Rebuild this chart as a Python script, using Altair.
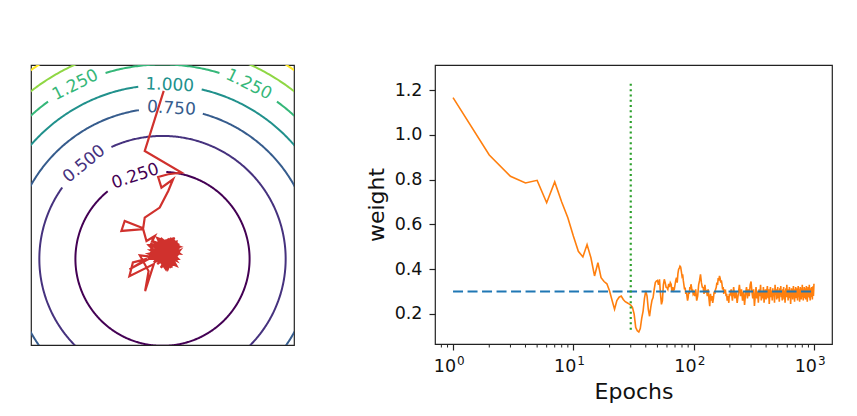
"""Loss contours with the SGD path, next to the weight trace over epochs."""

import math

import altair as alt
import pandas as pd

FONT = "DejaVu Sans"

# Contour levels of f(w1, w2) = w1^2 + w2^2 and their viridis colours.
LEVELS = [0.25, 0.5, 0.75, 1.0, 1.25, 1.5, 1.75]
LEVEL_COLORS = ["#440154", "#46327e", "#365c8d", "#21918c", "#35b779", "#8fd744", "#fde725"]

# Inline labels: level and the angle (deg) on its circle where the label sits.
LABEL_LEVELS = [1.25, 1.0, 1.25, 0.75, 0.5, 0.25]
LABEL_ANGLES = [116.6, 87.6, 63.7, 86.6, 129.5, 108.2]
LABEL_GAP = 0.18  # half-length of the break in the line, data units

# SGD path in parameter space: the descent, then the
# scribble around the minimum with a few excursions down-left.
PATH_W1 = [
    0.007, -0.102, 0.109, 0.033, -0.025, -0.006, 0.061, 0.033, -0.016, -0.102,
    -0.111, -0.217, -0.236, -0.111, -0.092, -0.044,
    -0.06, 0.08, -0.05, 0.07, 0.00, 0.09, -0.07, 0.06, -0.02, 0.09,
    -0.06, 0.04, 0.02, 0.08, -0.04, 0.07, -0.07, 0.05, -0.03, 0.09,
    -0.19, -0.09, -0.17, -0.19, -0.05, -0.10, -0.08, -0.13, -0.04,
    0.01, -0.05, 0.06, -0.01, 0.08, -0.06, 0.03, 0.05, -0.04, 0.09,
    -0.02, 0.06, -0.07, 0.04, 0.00, 0.08, -0.05, 0.07, -0.03, 0.02,
    0.09, -0.06, 0.05, 0.01, 0.07, -0.04, 0.06, -0.02, 0.08, 0.00,
    -0.08, 0.10, -0.03, 0.05, -0.08, 0.08, 0.02, -0.05, 0.10, -0.01,
    0.06, -0.07, 0.09, 0.03, -0.04, 0.07, -0.08, 0.04, 0.10, -0.02,
    0.05, -0.06, 0.08, 0.01, -0.03, 0.09, 0.04, 0.03,
]
PATH_W2 = [
    0.966, 0.621, 0.496, 0.487, 0.471, 0.410, 0.458, 0.391, 0.295, 0.237,
    0.176, 0.218, 0.161, 0.171, 0.103, 0.132,
    0.10, 0.04, -0.02, 0.10, -0.04, 0.06, 0.05, -0.03, 0.11, 0.00,
    0.00, 0.10, -0.05, 0.08, 0.07, -0.01, 0.09, 0.03, -0.03, 0.09,
    -0.06, 0.00, -0.02, -0.10, -0.03, -0.185, -0.07, 0.02, 0.01,
    0.02, 0.10, 0.06, -0.05, 0.02, 0.04, 0.11, -0.04, 0.02, 0.04,
    0.08, -0.02, 0.06, 0.00, 0.10, -0.01, 0.05, 0.07, -0.01, 0.09,
    0.02, 0.08, -0.02, 0.06, 0.11, 0.03, 0.01, 0.04, 0.06, 0.00,
    0.03, 0.07, 0.12, -0.05, 0.08, 0.10, -0.06, 0.04, 0.03, 0.12,
    -0.04, 0.07, 0.08, -0.06, 0.09, 0.12, 0.01, -0.03, 0.05, 0.00,
    0.12, 0.02, -0.04, 0.09, 0.05, 0.07, -0.02, 0.04,
]

# Weight trace: every epoch to 100, then every 2nd to 200, then every 5th.
EPOCHS = list(range(1, 101)) + list(range(102, 201, 2)) + list(range(205, 1001, 5))
WEIGHTS = [
    # 1-100
    1.166, 0.910, 0.815, 0.785, 0.797, 0.697, 0.790, 0.700, 0.630, 0.548,
    0.480, 0.455, 0.510, 0.451, 0.370, 0.429, 0.362, 0.345, 0.335, 0.303,
    0.260, 0.221, 0.260, 0.275, 0.280, 0.265, 0.255, 0.250, 0.245, 0.240,
    0.230, 0.200, 0.140, 0.125, 0.120, 0.135, 0.180, 0.213, 0.270, 0.303,
    0.280, 0.220, 0.190, 0.230, 0.260, 0.273, 0.310, 0.340, 0.347, 0.350,
    0.330, 0.355, 0.290, 0.243, 0.260, 0.330, 0.355, 0.340, 0.320, 0.318,
    0.310, 0.335, 0.320, 0.340, 0.333, 0.300, 0.320, 0.305, 0.310, 0.330,
    0.350, 0.362, 0.340, 0.380, 0.400, 0.405, 0.414, 0.410, 0.390, 0.370,
    0.377, 0.350, 0.330, 0.310, 0.318, 0.290, 0.300, 0.280, 0.260, 0.273,
    0.300, 0.290, 0.320, 0.310, 0.333, 0.320, 0.300, 0.310, 0.290, 0.295,
    # 102-200
    0.280, 0.310, 0.260, 0.280, 0.330, 0.350, 0.377, 0.340, 0.320, 0.318,
    0.290, 0.330, 0.300, 0.303, 0.280, 0.310, 0.270, 0.235, 0.290, 0.260,
    0.280, 0.250, 0.270, 0.300, 0.290, 0.310, 0.318, 0.340, 0.330, 0.360,
    0.350, 0.370, 0.360, 0.340, 0.350, 0.333, 0.310, 0.320, 0.290, 0.310,
    0.300, 0.303, 0.280, 0.290, 0.260, 0.280, 0.270, 0.250, 0.290, 0.280,
    # 205-1000
    0.310, 0.260, 0.320, 0.270, 0.300, 0.250, 0.290, 0.330, 0.280, 0.310,
    0.260, 0.300, 0.240, 0.290, 0.320, 0.270, 0.310, 0.280, 0.330, 0.345,
    0.300, 0.270, 0.310, 0.236, 0.280, 0.320, 0.270, 0.300, 0.250, 0.310,
    0.280, 0.330, 0.260, 0.300, 0.270, 0.320, 0.250, 0.290, 0.310, 0.265,
    0.300, 0.325, 0.270, 0.310, 0.245, 0.290, 0.320, 0.275, 0.305, 0.260,
    0.315, 0.280, 0.300, 0.250, 0.330, 0.285, 0.310, 0.265, 0.295, 0.320,
    0.270, 0.305, 0.255, 0.315, 0.290, 0.325, 0.275, 0.300, 0.260, 0.310,
    0.285, 0.320, 0.265, 0.305, 0.250, 0.295, 0.315, 0.275, 0.330, 0.280,
    0.300, 0.260, 0.310, 0.285, 0.320, 0.270, 0.305, 0.245, 0.290, 0.315,
    0.275, 0.310, 0.265, 0.300, 0.325, 0.280, 0.295, 0.255, 0.310, 0.290,
    0.320, 0.270, 0.305, 0.285, 0.315, 0.260, 0.300, 0.325, 0.275, 0.310,
    0.290, 0.255, 0.305, 0.320, 0.280, 0.300, 0.265, 0.315, 0.285, 0.330,
    0.275, 0.300, 0.260, 0.310, 0.290, 0.320, 0.270, 0.305, 0.280, 0.315,
    0.265, 0.300, 0.325, 0.280, 0.295, 0.255, 0.310, 0.290, 0.320, 0.275,
    0.305, 0.285, 0.330, 0.270, 0.300, 0.260, 0.315, 0.290, 0.310, 0.280,
    0.320, 0.275, 0.300, 0.265, 0.310, 0.290, 0.325, 0.280, 0.305, 0.335,
]

TARGET_WEIGHT = 0.3
TARGET_SPAN = [1, 1000]
MARKER_EPOCH = 30
MARKER_SPAN = [0.13, 1.24]

MAJOR_TICKS = [1, 10, 100, 1000]
TICK_EXPONENTS = ["0", "1", "2", "3"]
MINOR_TICKS = [0.8, 0.9] + [2, 3, 4, 5, 6, 7, 8, 9] + [20, 30, 40, 50, 60, 70, 80, 90] \
    + [200, 300, 400, 500, 600, 700, 800, 900]
Y_TICKS = [0.2, 0.4, 0.6, 0.8, 1.0, 1.2]

PLOT_H = 279


def contour_lines() -> pd.DataFrame:
    """Each level as a circle, broken where its inline labels sit."""
    rows = []
    for level, color in zip(LEVELS, LEVEL_COLORS):
        r = math.sqrt(level)
        gaps = [a for lv, a in zip(LABEL_LEVELS, LABEL_ANGLES) if lv == level]
        half = math.degrees(LABEL_GAP / r)
        seg, visible = 0, True
        for step in range(721):
            deg = step * 0.5
            hidden = any(abs((deg - g + 180) % 360 - 180) < half for g in gaps)
            if hidden:
                if visible:
                    seg += 1
                visible = False
                continue
            visible = True
            t = math.radians(deg)
            rows.append({"w1": r * math.cos(t), "w2": r * math.sin(t), "i": step,
                         "seg": f"{level}-{seg}", "color": color})
    return pd.DataFrame(rows)


def contour_labels() -> pd.DataFrame:
    color_of = dict(zip(LEVELS, LEVEL_COLORS))
    rows = []
    for level, deg in zip(LABEL_LEVELS, LABEL_ANGLES):
        r, t = math.sqrt(level), math.radians(deg)
        rows.append({"w1": r * math.cos(t), "w2": r * math.sin(t), "text": f"{level:.3f}",
                     "rot": (90 - deg) % 360, "color": color_of[level]})
    return pd.DataFrame(rows)


def landscape_panel() -> alt.LayerChart:
    x = alt.X("w1:Q", scale=alt.Scale(domain=[-0.755, 0.755], nice=False, zero=False), axis=None)
    y = alt.Y("w2:Q", scale=alt.Scale(domain=[-0.495, 1.115], nice=False, zero=False), axis=None)
    lines = alt.Chart(contour_lines()).mark_line(clip=True, strokeWidth=2).encode(
        x=x, y=y, detail="seg:N", order="i:Q", color=alt.Color("color:N", scale=None)
    )
    labels = alt.Chart(contour_labels()).mark_text(
        font=FONT, fontSize=17, baseline="middle", align="center"
    ).encode(
        x=x, y=y, text="text:N", angle=alt.Angle("rot:Q", scale=None),
        color=alt.Color("color:N", scale=None),
    )
    path = pd.DataFrame({"w1": PATH_W1, "w2": PATH_W2, "i": range(len(PATH_W1))})
    walk = alt.Chart(path).mark_line(color="#d0312d", strokeWidth=2.2, clip=True).encode(
        x=x, y=y, order="i:Q"
    )
    return (lines + labels + walk).properties(width=263, height=280)


def epoch_x(field: str) -> alt.X:
    # Labels are drawn as text marks (10 + raised exponent), so none here.
    return alt.X(
        field,
        scale=alt.Scale(type="log", domain=[10 ** -0.15, 10 ** 3.15], nice=False),
        axis=alt.Axis(
            values=MAJOR_TICKS, labels=False, title="Epochs", tickSize=6,
            titlePadding=31, grid=False, domain=False,
        ),
    )


def weight_panel() -> alt.LayerChart:
    y_scale = alt.Scale(domain=[0.066, 1.312], nice=False, zero=False)
    y = alt.Y("weight:Q", scale=y_scale, axis=alt.Axis(
        values=Y_TICKS, format=".1f", title="weight", tickSize=6, labelPadding=7,
        titlePadding=6, grid=False, domain=False,
    ))
    trace = alt.Chart(pd.DataFrame({"epoch": EPOCHS, "weight": WEIGHTS})).mark_line(
        color="#ff7f0e", strokeWidth=1.6
    ).encode(x=epoch_x("epoch:Q"), y=y)
    target = alt.Chart(pd.DataFrame({
        "epoch": [TARGET_SPAN[0]], "end": [TARGET_SPAN[1]], "weight": [TARGET_WEIGHT]
    })).mark_rule(color="#1f77b4", strokeWidth=2, strokeDash=[10, 4.5]).encode(
        x=epoch_x("epoch:Q"), x2="end:Q", y=y
    )
    marker = alt.Chart(pd.DataFrame({
        "epoch": [MARKER_EPOCH], "weight": [MARKER_SPAN[0]], "top": [MARKER_SPAN[1]]
    })).mark_rule(color="#2ca02c", strokeWidth=2.2, strokeDash=[2, 3.3]).encode(
        x=epoch_x("epoch:Q"), y=y, y2="top:Q"
    )
    minor = alt.Chart(pd.DataFrame({"epoch": MINOR_TICKS})).mark_rule(
        color="#222", strokeWidth=1
    ).encode(x=epoch_x("epoch:Q"), y=alt.value(PLOT_H), y2=alt.value(PLOT_H + 3.5))
    ticks = pd.DataFrame({"epoch": MAJOR_TICKS, "exp": TICK_EXPONENTS})
    base_txt = alt.Chart(ticks).mark_text(
        font=FONT, fontSize=17.5, align="right", baseline="alphabetic", dx=3, color="#111"
    ).encode(x=epoch_x("epoch:Q"), y=alt.value(PLOT_H + 28), text=alt.value("10"))
    exp_txt = alt.Chart(ticks).mark_text(
        font=FONT, fontSize=12, align="left", baseline="alphabetic", dx=4, color="#111"
    ).encode(x=epoch_x("epoch:Q"), y=alt.value(PLOT_H + 21.3), text="exp:N")
    return (trace + target + marker + minor + base_txt + exp_txt).properties(
        width=397, height=PLOT_H
    )


chart = (
    alt.hconcat(landscape_panel(), weight_panel(), spacing=69)
    .properties(padding={"left": 22, "top": 56, "right": 0, "bottom": 0})
    .configure_view(stroke="#222", strokeWidth=1.2)
    .configure_axis(
        labelFont=FONT, titleFont=FONT, labelFontSize=17.5, titleFontSize=22,
        titleFontWeight="normal", labelColor="#111", titleColor="#111",
        tickColor="#222", tickWidth=1.2,
    )
)

chart.save("out.html", embed_options={"renderer": "svg", "actions": False})
